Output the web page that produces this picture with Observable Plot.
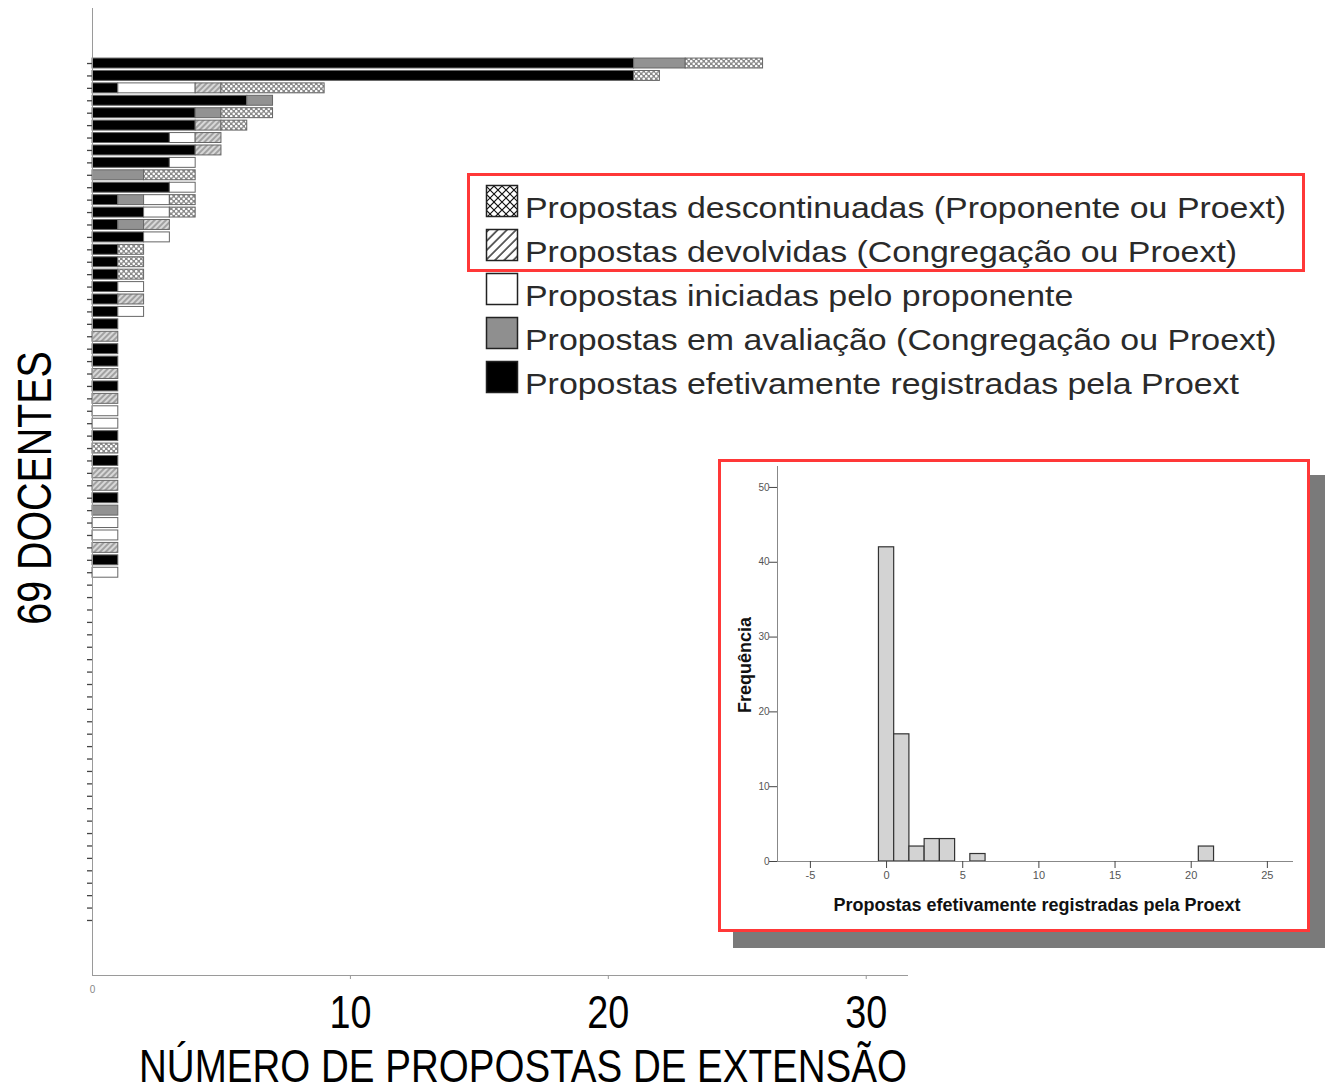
<!DOCTYPE html>
<html><head><meta charset="utf-8">
<script src="https://cdn.jsdelivr.net/npm/d3@7"></script>
<script src="https://cdn.jsdelivr.net/npm/@observablehq/plot@0.6"></script>
<style>
body{margin:0;background:#fff;}
#wrap{position:relative;width:1329px;height:1091px;overflow:hidden;background:#fff;}
#main{position:absolute;left:0;top:0;}
#overlay{position:absolute;left:0;top:0;}
#inset{position:absolute;left:721px;top:462px;}
</style></head><body>
<div id="wrap"><div id="main"></div><svg id="overlay" width="1329" height="1091"></svg><div id="inset"></div></div>
<script>
// ---- data ----
const docentes = [1,2,3,4,5,6,7,8,9,10,11,12,13,14,15,16,17,18,19,20,21,22,23,24,25,26,27,28,29,30,31,32,33,34,35,36,37,38,39,40,41,42,43,44,45,46,47,48,49,50,51,52,53,54,55,56,57,58,59,60,61,62,63,64,65,66,67,68,69,70];
const registradas   = [21,21,1,6,4,4,3,4,3,0, 3,1,2,1,2,1,1,1,1,1, 1,1,0,1,1,0,1,0,0,0, 1,0,1,0,0,1,0,0,0,0, 1,0,0,0,0,0,0,0,0,0, 0,0,0,0,0,0,0,0,0,0, 0,0,0,0,0,0,0,0,0,0];
const avaliacao     = [2,0,0,1,1,0,0,0,0,2, 0,1,0,1,0,0,0,0,0,0, 0,0,0,0,0,0,0,0,0,0, 0,0,0,0,0,0,1,0,0,0, 0,0,0,0,0,0,0,0,0,0, 0,0,0,0,0,0,0,0,0,0, 0,0,0,0,0,0,0,0,0,0];
const iniciadas     = [0,0,3,0,0,0,1,0,1,0, 1,1,1,0,1,0,0,0,1,0, 1,0,0,0,0,0,0,0,1,1, 0,0,0,0,0,0,0,1,1,0, 0,1,0,0,0,0,0,0,0,0, 0,0,0,0,0,0,0,0,0,0, 0,0,0,0,0,0,0,0,0,0];
const devolvidas    = [0,0,1,0,0,1,1,1,0,0, 0,0,0,1,0,0,0,0,0,1, 0,0,1,0,0,1,0,1,0,0, 0,0,0,1,1,0,0,0,0,1, 0,0,0,0,0,0,0,0,0,0, 0,0,0,0,0,0,0,0,0,0, 0,0,0,0,0,0,0,0,0,0];
const descontinuadas= [3,1,4,0,2,1,0,0,0,2, 0,1,1,0,0,1,1,1,0,0, 0,0,0,0,0,0,0,0,0,0, 0,1,0,0,0,0,0,0,0,0, 0,0,0,0,0,0,0,0,0,0, 0,0,0,0,0,0,0,0,0,0, 0,0,0,0,0,0,0,0,0,0];

const categorias = ["registradas","avaliacao","iniciadas","devolvidas","descontinuadas"];
const legendLabels = [
  "Propostas descontinuadas (Proponente ou Proext)",
  "Propostas devolvidas (Congregação ou Proext)",
  "Propostas iniciadas pelo proponente",
  "Propostas em avaliação (Congregação ou Proext)",
  "Propostas efetivamente registradas pela Proext"
];
const xTicks = [10,20,30];
const insetXTicks = [-5,0,5,10,15,20,25];
const insetYTicks = [0,10,20,30,40,50];
const xTitle = "NÚMERO DE PROPOSTAS DE EXTENSÃO";
const yTitle = "69 DOCENTES";
const insetXTitle = "Propostas efetivamente registradas pela Proext";
const insetYTitle = "Frequência";

// ---- styles per category ----
const fills = {
  registradas: "#000",
  avaliacao: "#929292",
  iniciadas: "#fff",
  devolvidas: "url(#patH)",
  descontinuadas: "url(#patX)"
};
const series = {registradas, avaliacao, iniciadas, devolvidas, descontinuadas};
const tidy = [];
docentes.forEach((d, i) => {
  categorias.forEach(c => {
    const v = series[c][i];
    if (v > 0) tidy.push({doc: d, cat: c, value: v, fill: fills[c]});
  });
});

const sans = "'Liberation Sans',Arial,sans-serif";

const main = Plot.plot({
  width: 1329, height: 1091,
  marginLeft: 92, marginRight: 422, marginTop: 8, marginBottom: 116,
  style: {fontFamily: sans, color: "#000", background: "transparent"},
  x: {domain: [0, 31.6]},
  y: {type: "band", domain: docentes, paddingInner: 0.2, paddingOuter: 4.03, align: 0.5, round: false},
  color: {type: "identity"},
  marks: [
    Plot.barX(tidy, Plot.stackX({y: "doc", x: "value", fill: "fill", z: "cat", order: categorias, stroke: "#666", strokeWidth: 1})),
    Plot.frame({anchor: "left", stroke: "#9a9a9a"}),
    Plot.frame({anchor: "bottom", stroke: "#9a9a9a"}),
    Plot.axisY({tickFormat: () => "", tickSize: 5, stroke: "#444", strokeWidth: 1.3, label: null}),
    Plot.axisX({ticks: xTicks, tickSize: 4, tickPadding: 16, fontSize: 46, stroke: "#999", label: null}),
    Plot.axisX({ticks: [0], tickSize: 0, tickPadding: 10, fontSize: 10, fill: "#888", label: null}),
    Plot.text([xTitle], {frameAnchor: "bottom", lineAnchor: "middle", textAnchor: "middle", dx: 23, dy: 91, fontSize: 47}),
    Plot.text([yTitle], {frameAnchor: "left", lineAnchor: "middle", textAnchor: "middle", rotate: -90, dx: -57, dy: -4, fontSize: 48})
  ]
});
// condense the large texts (narrow font look)
const bigTexts = new Set(["10", "20", "30", xTitle, yTitle]);
d3.select(main).selectAll("text").each(function() {
  if (bigTexts.has(this.textContent)) {
    this.setAttribute("transform", (this.getAttribute("transform") || "") + " scale(0.82,1)");
  }
});
// patterns for bars
const ms = d3.select(main);
const defs = ms.insert("defs", ":first-child");
const px = defs.append("pattern").attr("id", "patX").attr("patternUnits", "userSpaceOnUse").attr("width", 5).attr("height", 5);
px.append("rect").attr("width", 5).attr("height", 5).attr("fill", "#8a8a8a");
px.append("circle").attr("cx", 1.25).attr("cy", 1.25).attr("r", 1.3).attr("fill", "#fff");
px.append("circle").attr("cx", 3.75).attr("cy", 3.75).attr("r", 1.3).attr("fill", "#fff");
const ph = defs.append("pattern").attr("id", "patH").attr("patternUnits", "userSpaceOnUse").attr("width", 4).attr("height", 4).attr("patternTransform", "rotate(45)");
ph.append("rect").attr("width", 4).attr("height", 4).attr("fill", "#d8d8d8");
ph.append("line").attr("x1", 1).attr("x2", 1).attr("y1", 0).attr("y2", 4).attr("stroke", "#8a8a8a").attr("stroke-width", 1.4);
document.getElementById("main").appendChild(main);

// ---- overlay: legend, boxes ----
const ov = d3.select("#overlay");
const od = ov.append("defs");
const lx = od.append("pattern").attr("id", "legX").attr("patternUnits", "userSpaceOnUse").attr("x", 486).attr("y", 186).attr("width", 16).attr("height", 16);
lx.append("rect").attr("width", 16).attr("height", 16).attr("fill", "#fff");
lx.append("path").attr("d", "M0,0L16,16M16,0L0,16M0,8L8,0M8,16L16,8M0,8L8,16M8,0L16,8").attr("stroke", "#111").attr("stroke-width", 1.1).attr("fill", "none");
const lh = od.append("pattern").attr("id", "legH").attr("patternUnits", "userSpaceOnUse").attr("width", 6.5).attr("height", 6.5).attr("patternTransform", "rotate(45)");
lh.append("rect").attr("width", 6.5).attr("height", 6.5).attr("fill", "#fff");
lh.append("line").attr("x1", 1).attr("x2", 1).attr("y1", 0).attr("y2", 6.5).attr("stroke", "#111").attr("stroke-width", 1.3);

const legFills = ["url(#legX)", "url(#legH)", "#fff", "#8f8f8f", "#000"];
legendLabels.forEach((t, i) => {
  const base = 218 + i * 44;
  ov.append("rect").attr("x", 486.5).attr("y", base - 32.5).attr("width", 31).attr("height", 31)
    .attr("fill", legFills[i]).attr("stroke", "#222").attr("stroke-width", 1.5);
  ov.append("text").attr("transform", `translate(525,${base}) scale(1.13,1)`)
    .attr("font-family", sans).attr("font-size", 30).attr("fill", "#2a2a2a").text(t);
});
ov.append("rect").attr("x", 468.5).attr("y", 174.5).attr("width", 835).attr("height", 96)
  .attr("fill", "none").attr("stroke", "#ff3838").attr("stroke-width", 3);
ov.append("rect").attr("x", 733).attr("y", 475).attr("width", 592).attr("height", 473).attr("fill", "#7a7a7a");
ov.append("rect").attr("x", 719.5).attr("y", 460.5).attr("width", 589).attr("height", 470)
  .attr("fill", "#fff").attr("stroke", "#ff3838").attr("stroke-width", 3);

// ---- inset histogram ----
const binEdges = d3.range(-0.5, 26, 1);
const inset = Plot.plot({
  width: 586, height: 467,
  marginLeft: 56, marginRight: 15, marginTop: 4, marginBottom: 68,
  style: {fontFamily: sans, background: "transparent", color: "#000"},
  x: {domain: [-7.16, 26.65]},
  y: {domain: [0, 52.8]},
  marks: [
    Plot.rectY(registradas, Plot.binX({y: "count"}, {x: d => d, thresholds: binEdges, fill: "#d3d3d3", stroke: "#333", strokeWidth: 1.2, inset: 0})),
    Plot.frame({anchor: "left", stroke: "#888"}),
    Plot.frame({anchor: "bottom", stroke: "#888"}),
    Plot.axisY({ticks: insetYTicks, tickSize: 8, tickPadding: 0, fontSize: 10, fill: "#555", stroke: "#444", label: null, tickFormat: d => String(d)}),
    Plot.axisX({ticks: insetXTicks, tickSize: 7, tickPadding: 3, fontSize: 11, fill: "#555", stroke: "#444", label: null, tickFormat: d => String(d)}),
    Plot.text([insetXTitle], {frameAnchor: "bottom", lineAnchor: "middle", textAnchor: "middle", dx: 2, dy: 44, fontSize: 18, fontWeight: "bold", fill: "#111"}),
    Plot.text([insetYTitle], {frameAnchor: "left", lineAnchor: "middle", textAnchor: "middle", rotate: -90, dx: -32, dy: 1, fontSize: 18, fontWeight: "bold", fill: "#111"})
  ]
});
document.getElementById("inset").appendChild(inset);
</script>
</body></html>
